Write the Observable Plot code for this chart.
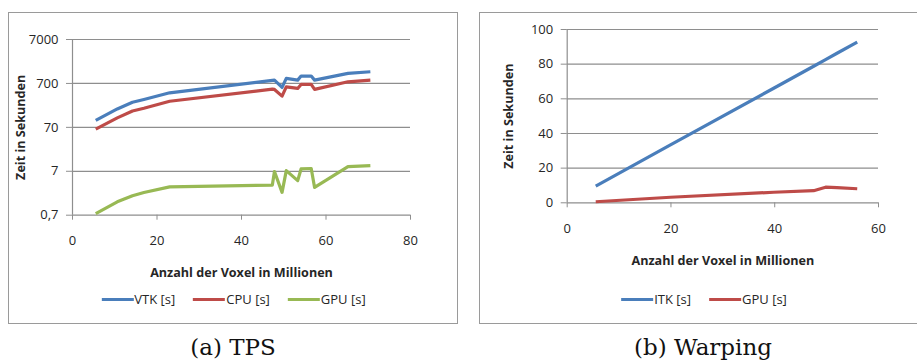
<!DOCTYPE html>
<html><head><meta charset="utf-8">
<script src="https://cdn.jsdelivr.net/npm/d3@7"></script>
<script src="https://cdn.jsdelivr.net/npm/@observablehq/plot@0.6"></script>
<style>
body{margin:0;background:#fff;}
#root{position:relative;width:917px;height:360px;overflow:hidden;font-family:"Open Sans",sans-serif;background:#fff;}
.frame{position:absolute;border:1.5px solid #9a9a9a;box-sizing:border-box;}
.plot{position:absolute;}
.plot svg g[aria-label$="axis label"] text{font-weight:bold;font-size:12.6px;}
.legend{position:absolute;display:flex;align-items:center;font-size:13px;color:#262626;white-space:nowrap;transform:translate(-50%,-50%);}
.legend .item{display:flex;align-items:center;margin:0 9px;}
.legend .sw{width:32px;height:3px;margin-right:1px;}
.caption{position:absolute;font-family:"DejaVu Serif",serif;font-size:23px;color:#111;transform:translate(-50%,-50%);white-space:nowrap;}
</style>
</head><body><div id="root"></div>
<script>
// ---- (a) TPS data ----
const tpsX   = [5.5, 10.6, 14.2, 16.9, 23, 47.3, 47.8, 49.6, 50.6, 53.3, 54.1, 56.5, 57.3, 65.2, 70.5];
const tpsVTK = [101, 184, 260, 301, 428, 820, 833, 567, 910, 833, 1029, 1029, 833, 1185, 1290];
const tpsCPU = [64, 115, 165, 190, 275, 520, 511, 359, 585, 538, 664, 664, 511, 762, 833];
const tpsGPU = [0.76, 1.41, 1.94, 2.3, 3.1, 3.4, 6.9, 2.32, 7.26, 4.28, 7.9, 8.1, 3.0, 8.97, 9.45];
const tpsXTicks = [0, 20, 40, 60, 80];
const tpsYTicks = [0.7, 7, 70, 700, 7000];
const tpsSeries = ["VTK [s]", "CPU [s]", "GPU [s]"];

// ---- (b) Warping data ----
const warpX   = [5.5, 19.9, 39.8, 47.5, 49.8, 52, 55.9];
const warpITK = [9.6, 33.4, 66.1, 78.8, 82.6, 86.3, 92.7];
const warpGPU = [0.6, 3.2, 6.1, 7.0, 9.0, 8.8, 8.1];
const warpXTicks = [0, 20, 40, 60];
const warpYTicks = [0, 20, 40, 60, 80, 100];
const warpSeries = ["ITK [s]", "GPU [s]"];

const xTitle = "Anzahl der Voxel in Millionen";
const yTitle = "Zeit in Sekunden";
const captions = ["(a) TPS", "(b) Warping"];

const BLUE = "#4a7ebb", RED = "#be4b48", GREEN = "#98b954";
const GRID = "#8e8e8e", TEXT = "#262626";

const tpsRows = tpsX.flatMap((x, i) => [
  {x, y: tpsVTK[i], s: tpsSeries[0]},
  {x, y: tpsCPU[i], s: tpsSeries[1]},
  {x, y: tpsGPU[i], s: tpsSeries[2]}
]);
const warpRows = warpX.flatMap((x, i) => [
  {x, y: warpITK[i], s: warpSeries[0]},
  {x, y: warpGPU[i], s: warpSeries[1]}
]);

const root = document.getElementById("root");
function add(el, css, cls) { el.className = cls || ""; Object.assign(el.style, css); root.appendChild(el); return el; }

function makeChart({rows, series, colors, xTicks, yTicks, yType, yFormat, width, height, margins, yLabelOffset}) {
  return Plot.plot({
    width, height, ...margins,
    style: {fontFamily: "Open Sans", fontSize: "13px", color: TEXT, background: "transparent", overflow: "visible"},
    x: {domain: [xTicks[0], xTicks[xTicks.length - 1]]},
    y: {type: yType, domain: [yTicks[0], yTicks[yTicks.length - 1]]},
    color: {domain: series, range: colors},
    marks: [
      Plot.gridY(yTicks, {stroke: GRID, strokeOpacity: 1, strokeWidth: 1.2}),
      Plot.ruleX([xTicks[0]], {stroke: GRID, strokeWidth: 1.2}),
      Plot.axisY(yTicks, {ticks: Infinity, tickSize: 6, tickPadding: 8, stroke: GRID, fill: TEXT, tickFormat: yFormat,
        label: yTitle, labelAnchor: "center", labelOffset: yLabelOffset, labelArrow: "none"}),
      Plot.axisX(xTicks, {tickSize: 5, tickPadding: 15.5, stroke: GRID, fill: TEXT,
        label: xTitle, labelAnchor: "center", labelOffset: 62, labelArrow: "none"}),
      Plot.lineY(rows, {x: "x", y: "y", stroke: "s", z: "s", strokeWidth: 3.2, strokeLinejoin: "round", strokeLinecap: "butt"})
    ]
  });
}

// Frames
add(document.createElement("div"), {left: "8px", top: "12px", width: "450px", height: "312px"}, "frame");
add(document.createElement("div"), {left: "479px", top: "12px", width: "440px", height: "312px"}, "frame");

// Chart (a)
const pa = add(document.createElement("div"), {left: "8px", top: "12px"}, "plot");
pa.appendChild(makeChart({
  rows: tpsRows, series: tpsSeries, colors: [BLUE, RED, GREEN],
  xTicks: tpsXTicks, yTicks: tpsYTicks, yType: "log",
  yFormat: d => String(d).replace(".", ","),
  width: 449, height: 270,
  margins: {marginLeft: 64, marginRight: 47, marginTop: 27, marginBottom: 67.3},
  yLabelOffset: 56
}));

// Chart (b)
const pb = add(document.createElement("div"), {left: "480px", top: "12px"}, "plot");
pb.appendChild(makeChart({
  rows: warpRows, series: warpSeries, colors: [BLUE, RED],
  xTicks: warpXTicks, yTicks: warpYTicks, yType: "linear",
  yFormat: d => String(d),
  width: 437, height: 260,
  margins: {marginLeft: 86.7, marginRight: 39, marginTop: 17, marginBottom: 69.7},
  yLabelOffset: 63
}));

function legend(series, colors, cx, cy) {
  const lg = add(document.createElement("div"), {left: cx + "px", top: cy + "px"}, "legend");
  series.forEach((s, i) => {
    const it = document.createElement("div"); it.className = "item";
    const sw = document.createElement("div"); sw.className = "sw"; sw.style.background = colors[i];
    const tx = document.createElement("span"); tx.textContent = s;
    it.appendChild(sw); it.appendChild(tx); lg.appendChild(it);
  });
}
legend(tpsSeries, [BLUE, RED, GREEN], 233.5, 299);
legend(warpSeries, [BLUE, RED], 704, 299);

const c1 = add(document.createElement("div"), {left: "233px", top: "347px"}, "caption"); c1.textContent = captions[0];
const c2 = add(document.createElement("div"), {left: "703px", top: "347px"}, "caption"); c2.textContent = captions[1];
</script></body></html>
